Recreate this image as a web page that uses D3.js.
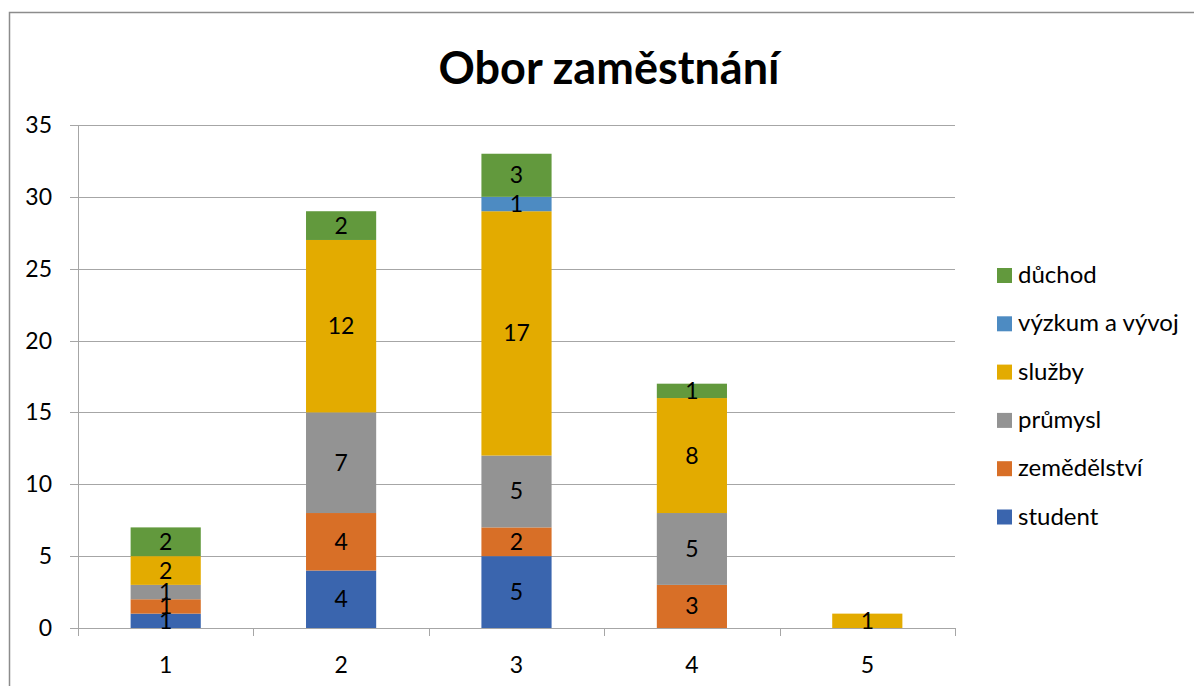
<!DOCTYPE html>
<html>
<head>
<meta charset="utf-8">
<script src="https://cdn.jsdelivr.net/npm/d3@7"></script>
<style>
  body { margin: 0; background: #fff; }
  text { font-family: Lato, "Open Sans", sans-serif; }
</style>
</head>
<body>
<div id="chart"></div>
<script>
// data
var categories = ["1", "2", "3", "4", "5"];
var seriesNames = ["student", "zemědělství", "průmysl", "služby", "výzkum a vývoj", "důchod"];
var seriesColors = ["#3a65ae", "#d86f27", "#939393", "#e3ab00", "#4d8bc2", "#62993d"];
var student     = [1, 4, 5, 0, 0];
var zemedelstvi = [1, 4, 2, 3, 0];
var prumysl     = [1, 7, 5, 5, 0];
var sluzby      = [2, 12, 17, 8, 1];
var vyzkum      = [0, 0, 1, 0, 0];
var duchod      = [2, 2, 3, 1, 0];
var yTicks = [0, 5, 10, 15, 20, 25, 30, 35];

var svgWidth = 1194;
var svgHeight = 686;
var margin = { top: 125, right: 239, bottom: 58, left: 78 };
var width = svgWidth - margin.left - margin.right;
var height = svgHeight - margin.top - margin.bottom;

var svg = d3.select("#chart")
  .append("svg")
  .attr("width", svgWidth)
  .attr("height", svgHeight);

// outer chart frame (runs off the page at right / bottom)
svg.append("rect")
  .attr("x", 9.5).attr("y", 12.5)
  .attr("width", 1300).attr("height", 1000)
  .attr("fill", "none").attr("stroke", "#8c8c8c").attr("stroke-width", 1.5);

svg.append("text")
  .attr("x", 609).attr("y", 84)
  .attr("text-anchor", "middle")
  .attr("font-size", 45).attr("font-weight", "bold")
  .text("Obor zaměstnání");

var chartGroup = svg.append("g")
  .attr("transform", `translate(${margin.left}, ${margin.top})`);

var table = categories.map(function(c, i) {
  return {
    cat: c,
    "student": student[i],
    "zemědělství": zemedelstvi[i],
    "průmysl": prumysl[i],
    "služby": sluzby[i],
    "výzkum a vývoj": vyzkum[i],
    "důchod": duchod[i]
  };
});

var stacked = d3.stack().keys(seriesNames)(table);

var xScale = d3.scaleBand()
  .domain(categories)
  .range([0, width])
  .paddingInner(0.6)
  .paddingOuter(0.3);

var yScale = d3.scaleLinear()
  .domain([0, 35])
  .range([height, 0]);

// gridlines
chartGroup.selectAll(".grid")
  .data(yTicks)
  .enter()
  .append("line")
  .attr("x1", -8).attr("x2", width)
  .attr("y1", d => Math.round(yScale(d)) + 0.5)
  .attr("y2", d => Math.round(yScale(d)) + 0.5)
  .attr("stroke", "#a6a6a6").attr("stroke-width", 1);

// y axis line
chartGroup.append("line")
  .attr("x1", 0.5).attr("x2", 0.5)
  .attr("y1", 0).attr("y2", height)
  .attr("stroke", "#a6a6a6");

chartGroup.selectAll(".ylab")
  .data(yTicks)
  .enter()
  .append("text")
  .attr("x", -26)
  .attr("y", d => yScale(d) + 8)
  .attr("text-anchor", "end")
  .attr("font-size", 23)
  .text(d => d);

// x ticks at category boundaries
var step = xScale.step();
chartGroup.selectAll(".xtick")
  .data(d3.range(categories.length + 1))
  .enter()
  .append("line")
  .attr("x1", d => Math.round(d * step) + 0.5)
  .attr("x2", d => Math.round(d * step) + 0.5)
  .attr("y1", height).attr("y2", height + 8)
  .attr("stroke", "#a6a6a6");

chartGroup.selectAll(".xlab")
  .data(categories)
  .enter()
  .append("text")
  .attr("x", d => xScale(d) + xScale.bandwidth() / 2)
  .attr("y", height + 45)
  .attr("text-anchor", "middle")
  .attr("font-size", 23)
  .text(d => d);

// bars
var layers = chartGroup.selectAll(".layer")
  .data(stacked)
  .enter()
  .append("g")
  .attr("fill", (d, i) => seriesColors[i]);

layers.selectAll("rect")
  .data(d => d)
  .enter()
  .append("rect")
  .attr("x", d => xScale(d.data.cat))
  .attr("y", d => yScale(d[1]))
  .attr("width", xScale.bandwidth())
  .attr("height", d => yScale(d[0]) - yScale(d[1]));

// data labels
stacked.forEach(function(layer) {
  chartGroup.selectAll(null)
    .data(layer.filter(d => d[1] - d[0] > 0))
    .enter()
    .append("text")
    .attr("x", d => xScale(d.data.cat) + xScale.bandwidth() / 2)
    .attr("y", d => yScale((d[0] + d[1]) / 2) + 8)
    .attr("text-anchor", "middle")
    .attr("font-size", 23)
    .attr("fill", "#000")
    .text(d => d[1] - d[0]);
});

// legend
var legend = svg.append("g")
  .attr("transform", "translate(997, 275)");

var legendOrder = seriesNames.slice().reverse();
legendOrder.forEach(function(name, i) {
  var row = legend.append("g").attr("transform", `translate(0, ${i * 48.3})`);
  row.append("rect")
    .attr("x", 0).attr("y", -7)
    .attr("width", 15).attr("height", 15)
    .attr("fill", seriesColors[seriesNames.indexOf(name)]);
  row.append("text")
    .attr("x", 21).attr("y", 8)
    .attr("font-size", 24)
    .text(name);
});
</script>
</body>
</html>
